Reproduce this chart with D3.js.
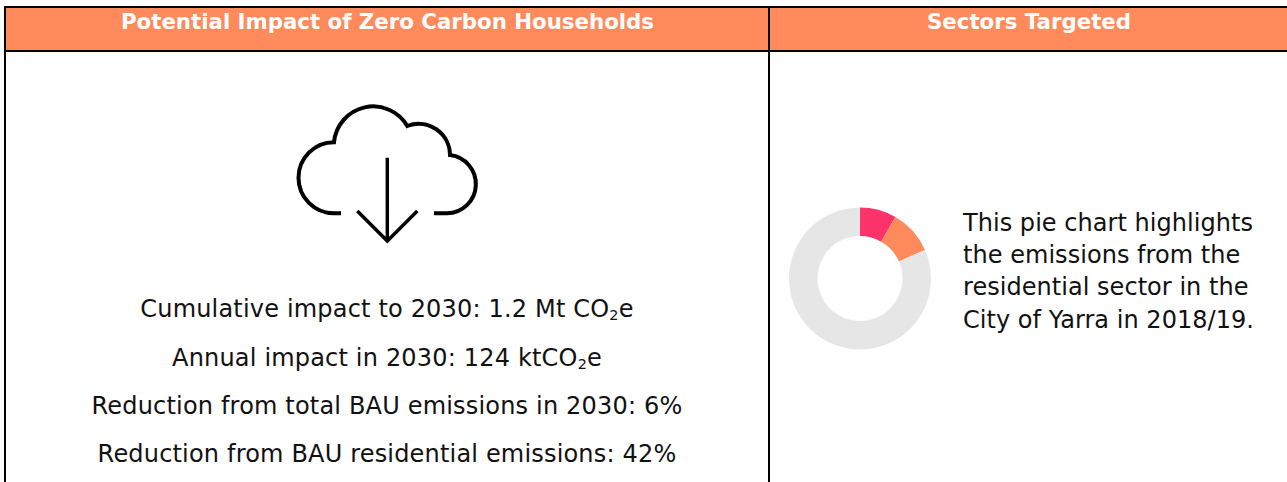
<!DOCTYPE html>
<html><head><meta charset="utf-8">
<style>html,body{margin:0;padding:0;background:#fff}svg{display:block}text{font-family:"DejaVu Sans",Verdana,sans-serif}</style>
<script src="https://cdn.jsdelivr.net/npm/d3@7"></script></head><body>
<script>
const sectors = ["Sector A", "Residential", "Other"];
const sectorValues = [8.3, 10.1, 81.6];
const sectorColors = ["#ff336b", "#ff8b5c", "#e6e6e6"];
const headers = ["Potential Impact of Zero Carbon Households", "Sectors Targeted"];
const impactLines = [
  [["Cumulative impact to 2030: 1.2 Mt CO"],["2",1],["e"]],
  [["Annual impact in 2030: 124 ktCO"],["2",1],["e"]],
  [["Reduction from total BAU emissions in 2030: 6%"]],
  [["Reduction from BAU residential emissions: 42%"]]
];
const noteLines = ["This pie chart highlights","the emissions from the","residential sector in the","City of Yarra in 2018/19."];

const W=1287,H=482,FS=24;
const svg=d3.select("body").append("svg").attr("width",W).attr("height",H);
svg.append("rect").attr("x",5).attr("y",7).attr("width",W).attr("height",44).attr("fill","#ff8b5c");
const line=(x1,y1,x2,y2)=>svg.append("line").attr("x1",x1).attr("y1",y1).attr("x2",x2).attr("y2",y2).attr("stroke","#000").attr("stroke-width",2);
line(4,7,W,7);line(4,51,W,51);line(5,6,5,H);line(769,6,769,H);
svg.selectAll(".h").data(headers).join("text").attr("class","h")
  .attr("x",(d,i)=>[387.5,1029][i]).attr("y",29).attr("text-anchor","middle")
  .attr("font-size",21.3).attr("font-weight","bold").attr("fill","#fff").text(d=>d);
const icon=svg.append("g").attr("fill","none").attr("stroke","#000");
icon.append("path").attr("stroke-width",4).attr("d","M341,213.3H334A35.5,35.5 0 0 1 334,142.3A39.4,39.4 0 0 1 407.3,126A31.3,31.3 0 0 1 450,155A29.25,29.25 0 0 1 447,213.3H434");
icon.append("path").attr("stroke-width",3.4).attr("d","M387.3,157.7V241M357.3,211L387.3,241L417.3,211");
const t=svg.selectAll(".l").data(impactLines).join("text").attr("class","l")
  .attr("x",387).attr("y",(d,i)=>[317,366,414,462][i]).attr("text-anchor","middle")
  .attr("font-size",FS).attr("letter-spacing",0.18).attr("fill","#111");
t.selectAll("tspan").data(d=>d).join("tspan")
  .attr("font-size",d=>d[1]?FS*0.6:null).attr("dy",(d,i)=>d[1]?3:(i>0?-3:0)).text(d=>d[0]);
const pie=d3.pie().sort(null).value(d=>d);
const arc=d3.arc().innerRadius(42.5).outerRadius(71);
svg.append("g").attr("transform","translate(860,278.5)").selectAll("path").data(pie(sectorValues)).join("path")
  .attr("d",arc).attr("fill",(d,i)=>sectorColors[i]);
svg.selectAll(".n").data(noteLines).join("text").attr("class","n")
  .attr("x",963).attr("y",(d,i)=>[230.5,263,295,327.5][i]).attr("font-size",FS).attr("letter-spacing",0.04).attr("fill","#111").text(d=>d);
</script></body></html>
